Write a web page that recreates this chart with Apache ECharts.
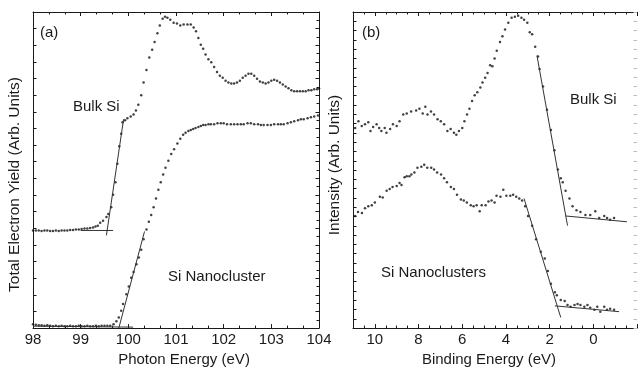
<!DOCTYPE html>
<html>
<head>
<meta charset="utf-8">
<script src="https://cdn.jsdelivr.net/npm/echarts@6/dist/echarts.min.js"></script>
<style>
  html, body { margin: 0; padding: 0; background: #fff; }
  #chart { width: 640px; height: 372px; }
</style>
</head>
<body>
<div id="chart"></div>
<script>
// panel (a): photon energy (eV) vs total electron yield (arb. units)
const bulkA_E = [98.00, 98.06, 98.12, 98.18, 98.24, 98.30, 98.36, 98.42, 98.48, 98.54, 98.60, 98.66, 98.72, 98.78, 98.84, 98.90, 98.96, 99.02, 99.08, 99.14, 99.20, 99.26, 99.31, 99.36, 99.41, 99.47, 99.54, 99.58, 99.64, 99.68, 99.73, 99.77, 99.81, 99.85, 99.88, 99.93, 99.98, 100.05, 100.11, 100.16, 100.21, 100.27, 100.32, 100.38, 100.44, 100.50, 100.55, 100.61, 100.66, 100.72, 100.77, 100.82, 100.88, 100.95, 101.02, 101.09, 101.16, 101.24, 101.31, 101.37, 101.42, 101.47, 101.52, 101.57, 101.62, 101.68, 101.74, 101.80, 101.86, 101.92, 101.98, 102.04, 102.10, 102.16, 102.22, 102.28, 102.34, 102.40, 102.46, 102.52, 102.58, 102.64, 102.70, 102.76, 102.82, 102.88, 102.94, 103.00, 103.06, 103.12, 103.18, 103.24, 103.30, 103.36, 103.42, 103.48, 103.54, 103.60, 103.66, 103.72, 103.78, 103.84, 103.90, 103.96, 104.00];
const bulkA_Y = [101, 101, 101, 100.5, 101, 101, 100.5, 100.5, 101, 100.5, 101, 101, 101, 101.5, 101.5, 102, 102, 102.5, 103, 103, 103.5, 104, 105, 106, 109, 111, 115, 118, 125, 138, 151, 170, 188, 201, 213, 215, 217, 219, 221, 225, 231, 241, 254, 267, 280, 288, 296, 305, 313, 320, 322, 321, 319, 316, 315, 313, 314, 314, 314, 311, 307, 300, 293, 289, 283, 278, 275, 270, 265, 261, 259, 256, 254, 253, 253, 254, 256, 259, 261, 263, 263, 261, 258, 255, 254, 253, 254, 256, 257, 256, 254, 252, 250, 248, 246, 245, 245, 245, 245, 245, 246, 246, 247, 247, 248];

const nanoA_E = [98.00, 98.06, 98.12, 98.18, 98.24, 98.30, 98.36, 98.42, 98.48, 98.54, 98.60, 98.66, 98.72, 98.78, 98.84, 98.90, 98.96, 99.02, 99.08, 99.14, 99.20, 99.26, 99.32, 99.38, 99.44, 99.50, 99.56, 99.62, 99.69, 99.75, 99.80, 99.85, 99.89, 99.96, 100.01, 100.06, 100.11, 100.17, 100.22, 100.27, 100.32, 100.38, 100.43, 100.48, 100.53, 100.58, 100.63, 100.68, 100.73, 100.78, 100.84, 100.90, 100.96, 101.03, 101.09, 101.15, 101.20, 101.26, 101.31, 101.36, 101.41, 101.47, 101.52, 101.57, 101.62, 101.68, 101.73, 101.80, 101.87, 101.94, 102.00, 102.07, 102.15, 102.22, 102.29, 102.36, 102.42, 102.50, 102.57, 102.64, 102.72, 102.78, 102.84, 102.92, 102.99, 103.06, 103.14, 103.20, 103.26, 103.34, 103.41, 103.48, 103.56, 103.62, 103.68, 103.76, 103.83, 103.90, 103.98];
const nanoA_Y = [4, 3.5, 3, 3, 2.5, 3, 2.5, 2, 2.5, 2, 2.5, 2, 2, 2.5, 2, 2, 2.5, 2, 2, 2.5, 2, 2, 2.5, 2, 2.5, 2.5, 2.5, 2.5, 4, 7, 11, 18, 25, 35, 43, 52, 58, 66, 73, 81, 92, 102, 110, 117, 125, 134, 143, 151, 159, 166, 173, 180, 185, 191, 196, 200, 202, 204, 205, 206, 207, 208, 209, 210, 210, 211, 211, 211, 212, 212, 212, 211, 211, 211, 211, 211, 211, 212, 212, 211, 211, 210, 210, 210, 210, 211, 211, 211, 211, 212, 213, 214, 215, 216, 216, 217, 218, 219, 220];

// fitted lines, panel (a): [energy, yield] end points
const fitA_bulkEdge = [[99.54, 96], [99.90, 216]];
const fitA_bulkBase = [[99.00, 101], [99.68, 101]];
const fitA_nanoEdge = [[99.80, 0], [100.34, 100]];
const fitA_nanoBase = [[98.00, 2], [100.10, 1]];

// panel (b): binding energy (eV) vs intensity (arb. units)
const bulkB_E = [10.90, 10.75, 10.60, 10.45, 10.30, 10.20, 10.08, 9.92, 9.80, 9.70, 9.55, 9.47, 9.30, 9.17, 9.00, 8.87, 8.70, 8.54, 8.34, 8.11, 7.96, 7.81, 7.69, 7.59, 7.43, 7.29, 7.13, 6.98, 6.83, 6.68, 6.53, 6.38, 6.27, 6.15, 6.00, 5.90, 5.78, 5.67, 5.55, 5.43, 5.31, 5.17, 5.07, 4.95, 4.84, 4.72, 4.62, 4.52, 4.42, 4.27, 4.16, 4.04, 3.89, 3.74, 3.59, 3.44, 3.29, 3.17, 3.02, 2.91, 2.80, 2.66, 2.53, 2.46, 2.30, 2.12, 1.94, 1.78, 1.62, 1.49, 1.40, 1.27, 1.09, 0.95, 0.77, 0.59, 0.36, 0.14, -0.09, -0.27, -0.50, -0.63, -0.77, -0.95];
const bulkB_Y = [207, 214, 209, 211, 213, 204, 208, 211, 207, 204, 207, 202, 206, 211, 209, 214, 221, 222, 224, 225, 227, 222, 229, 221, 224, 221, 216, 214, 211, 204, 206, 202, 200, 204, 207, 214, 221, 227, 235, 241, 244, 249, 254, 259, 264, 272, 271, 279, 287, 296, 302, 309, 316, 321, 322, 323, 321, 319, 316, 306, 304, 291, 281, 268, 250, 226, 205, 184, 164, 155, 151, 142, 134, 126, 122, 120, 117, 117, 121, 114, 116, 114, 112, 114];

const nanoB_E = [10.90, 10.77, 10.59, 10.45, 10.30, 10.14, 10.00, 9.77, 9.64, 9.46, 9.32, 9.19, 9.00, 8.87, 8.78, 8.64, 8.54, 8.42, 8.33, 8.19, 8.05, 7.87, 7.74, 7.60, 7.42, 7.29, 7.15, 6.97, 6.83, 6.70, 6.52, 6.38, 6.24, 6.06, 5.93, 5.79, 5.61, 5.48, 5.34, 5.20, 5.11, 4.93, 4.80, 4.66, 4.52, 4.43, 4.25, 4.12, 3.98, 3.80, 3.67, 3.53, 3.39, 3.26, 3.12, 2.99, 2.80, 2.62, 2.40, 2.22, 2.08, 1.94, 1.76, 1.67, 1.49, 1.31, 1.18, 1.04, 0.86, 0.72, 0.59, 0.41, 0.27, 0.14, -0.05, -0.18, -0.32, -0.50, -0.63, -0.77, -0.95];
const nanoB_Y = [116, 120, 119, 124, 126, 127, 130, 136, 135, 142, 144, 146, 147, 150, 148, 156, 157, 157, 159, 161, 166, 167, 169, 166, 166, 164, 161, 159, 155, 151, 146, 144, 138, 133, 132, 130, 127, 126, 127, 121, 127, 127, 131, 132, 130, 137, 136, 143, 137, 137, 138, 136, 134, 132, 126, 116, 106, 92, 79, 72, 59, 46, 37, 34, 29, 28, 24, 22, 24, 25, 24, 22, 24, 21, 19, 22, 17, 22, 19, 20, 19];

const fitB_bulkEdge = [[2.58, 282], [1.18, 106]];
const fitB_bulkTail = [[1.27, 116], [-1.54, 110]];
const fitB_nanoEdge = [[3.17, 134], [1.49, 11]];
const fitB_nanoTail = [[1.76, 23], [-1.18, 17]];

const ticksA = [98, 99, 100, 101, 102, 103, 104];
const ticksB = [10, 8, 6, 4, 2, 0];

const zip = (xs, ys) => xs.map((x, i) => [x, ys[i]]);
const FONT = '"Liberation Sans", Arial, sans-serif';
const INK = '#1a1a1a';

function xAxisOf(grid, pos, min, max, interval, minorSplit, inverse, labels, name, pad, gap) {
  const bottom = pos === 'bottom';
  return {
    type: 'value', gridIndex: grid, position: pos, min: min, max: max, interval: interval, inverse: inverse,
    axisLine: { onZero: false, lineStyle: { color: INK, width: 1 } },
    axisTick: { show: true, inside: true, length: 4, lineStyle: { color: INK } },
    minorTick: { show: true, splitNumber: minorSplit, length: 2.5, lineStyle: { color: INK } },
    axisLabel: {
      show: bottom, margin: 4, fontSize: 15, fontFamily: FONT, color: INK,
      formatter: v => (labels.indexOf(v) >= 0 ? String(v) : '')
    },
    splitLine: { show: false },
    name: bottom ? name : '', nameLocation: 'middle', nameGap: gap,
    nameTextStyle: { fontSize: 15, fontFamily: FONT, color: INK, padding: pad }
  };
}

function yAxisOf(grid, pos, max, interval, minorSplit, name, pad, lineColor, showLine) {
  const left = pos === 'left';
  return {
    type: 'value', gridIndex: grid, position: pos, min: 0, max: max, interval: interval,
    axisLine: { show: showLine, onZero: false, lineStyle: { color: lineColor, width: 1 } },
    axisTick: { show: true, inside: true, length: 3.5, lineStyle: { color: lineColor } },
    minorTick: { show: minorSplit > 1, splitNumber: minorSplit, length: 2.5, lineStyle: { color: lineColor } },
    axisLabel: { show: false },
    splitLine: { show: false },
    name: left ? name : '', nameLocation: 'middle', nameGap: 10,
    nameTextStyle: { fontSize: 15.5, fontFamily: FONT, color: INK, padding: pad }
  };
}

function dots(xi, yi, data) {
  return {
    type: 'scatter', xAxisIndex: xi, yAxisIndex: yi, data: data,
    symbol: 'circle', symbolSize: 2.5, itemStyle: { color: '#111' }, silent: true
  };
}

function fit(xi, yi, data) {
  return {
    type: 'line', xAxisIndex: xi, yAxisIndex: yi, data: data, symbol: 'none',
    lineStyle: { color: '#333', width: 1 }, silent: true
  };
}

function note(text, x, y) {
  return {
    type: 'text', x: x, y: y,
    style: { text: text, font: '15px ' + FONT, fill: INK, verticalAlign: 'middle' }
  };
}

const hA = 327;
const chart = echarts.init(document.getElementById('chart'));
chart.setOption({
  animation: false,
  backgroundColor: '#fff',
  grid: [
    { left: 33, top: 12, width: 286, height: 327 },
    { left: 353, top: 12, width: 287, height: 327 }
  ],
  xAxis: [
    xAxisOf(0, 'bottom', 98, 104, 1, 3, false, ticksA, 'Photon Energy (eV)', [0, 0, 0, 16], 21),
    xAxisOf(0, 'top', 98, 104, 1, 3, false, ticksA, '', 0, 0),
    xAxisOf(1, 'bottom', -2, 11, 2, 4, true, ticksB, 'Binding Energy (eV)', [0, 12, 0, 0], 15),
    xAxisOf(1, 'top', -2, 11, 2, 4, true, ticksB, '', 0, 0)
  ],
  yAxis: [
    yAxisOf(0, 'left', hA, hA / 19, 1, 'Total Electron Yield (Arb. Units)', [0, 29, 0, 0], INK, true),
    yAxisOf(0, 'right', hA, hA / 19, 2, '', 0, INK, true),
    yAxisOf(1, 'left', hA, hA / 34, 1, 'Intensity (Arb. Units)', [0, 0, 0, 10], INK, true),
    yAxisOf(1, 'right', hA, hA / 34, 1, '', 0, '#bdbdbd', false)
  ],
  series: [
    dots(0, 0, zip(bulkA_E, bulkA_Y)),
    dots(0, 0, zip(nanoA_E, nanoA_Y)),
    fit(0, 0, fitA_bulkEdge),
    fit(0, 0, fitA_bulkBase),
    fit(0, 0, fitA_nanoEdge),
    fit(0, 0, fitA_nanoBase),
    dots(2, 2, zip(bulkB_E, bulkB_Y)),
    dots(2, 2, zip(nanoB_E, nanoB_Y)),
    fit(2, 2, fitB_bulkEdge),
    fit(2, 2, fitB_bulkTail),
    fit(2, 2, fitB_nanoEdge),
    fit(2, 2, fitB_nanoTail)
  ],
  graphic: [
    note('(a)', 40, 33),
    note('Bulk Si', 73, 107),
    note('Si Nanocluster', 168, 277),
    note('(b)', 362, 33),
    note('Bulk Si', 570, 100),
    note('Si Nanoclusters', 381, 273)
  ]
});
</script>
</body>
</html>
